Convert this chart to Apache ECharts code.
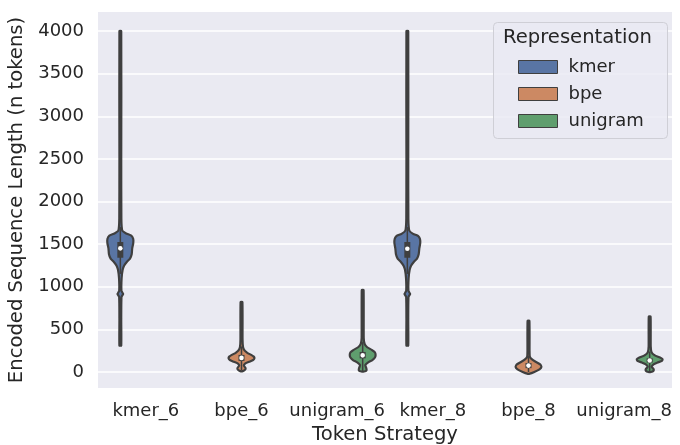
<!DOCTYPE html>
<html>
<head>
<meta charset="utf-8">
<script src="https://cdn.jsdelivr.net/npm/echarts@6/dist/echarts.min.js"></script>
<style>
  html, body { margin: 0; padding: 0; background: #fff; }
  #chart { width: 680px; height: 445px; }
</style>
</head>
<body>
<div id="chart"></div>
<script>
// categories on the x axis and which representation each one belongs to
const categories = ['kmer_6', 'bpe_6', 'unigram_6', 'kmer_8', 'bpe_8', 'unigram_8'];
const representations = ['kmer', 'bpe', 'unigram'];
const categoryRep = [0, 1, 2, 0, 1, 2];

// violin outlines: [length in tokens, relative half width]
const kmer6Profile = [
  [310, 0.07], [600, 0.07], [880, 0.09], [915, 0.22], [950, 0.09], [1100, 0.1],
  [1200, 0.18], [1250, 0.3], [1290, 0.5], [1330, 0.75], [1380, 0.88], [1450, 0.92],
  [1510, 1.0], [1560, 1.0], [1600, 0.85], [1625, 0.45], [1660, 0.15], [1800, 0.08],
  [2500, 0.07], [4000, 0.07]
];
const bpe6Profile = [
  [10, 0.1], [30, 0.3], [50, 0.3], [75, 0.18], [100, 0.3], [120, 0.6], [140, 0.9],
  [160, 1.0], [180, 0.95], [200, 0.75], [225, 0.45], [250, 0.25], [290, 0.12],
  [380, 0.08], [820, 0.07]
];
const unigram6Profile = [
  [5, 0.1], [20, 0.3], [45, 0.28], [80, 0.2], [110, 0.4], [140, 0.75], [170, 0.95],
  [200, 1.0], [230, 0.95], [260, 0.7], [290, 0.35], [330, 0.15], [400, 0.08], [960, 0.07]
];
const kmer8Profile = [
  [310, 0.07], [600, 0.07], [880, 0.09], [915, 0.22], [950, 0.09], [1100, 0.1],
  [1200, 0.18], [1250, 0.3], [1290, 0.5], [1330, 0.75], [1380, 0.88], [1450, 0.93],
  [1510, 1.0], [1560, 0.98], [1595, 0.85], [1620, 0.45], [1660, 0.15], [1800, 0.08],
  [2500, 0.07], [4000, 0.07]
];
const bpe8Profile = [
  [-20, 0.1], [0, 0.45], [30, 0.85], [60, 1.0], [90, 0.9], [120, 0.55], [150, 0.25],
  [180, 0.1], [250, 0.08], [600, 0.07]
];
const unigram8Profile = [
  [0, 0.1], [15, 0.3], [35, 0.3], [60, 0.15], [90, 0.3], [110, 0.6], [130, 0.95],
  [150, 1.0], [170, 0.8], [195, 0.4], [230, 0.15], [300, 0.08], [650, 0.07]
];
const profiles = [kmer6Profile, bpe6Profile, unigram6Profile, kmer8Profile, bpe8Profile, unigram8Profile];

// inner box: [whisker low, q1, median, q3, whisker high]
const kmer6Box = [1150, 1340, 1450, 1525, 1700];
const bpe6Box = [20, 130, 165, 200, 300];
const unigram6Box = [10, 160, 195, 235, 350];
const kmer8Box = [1150, 1340, 1445, 1525, 1700];
const bpe8Box = [0, 45, 75, 105, 190];
const unigram8Box = [10, 110, 135, 160, 240];
const boxes = [kmer6Box, bpe6Box, unigram6Box, kmer8Box, bpe8Box, unigram8Box];

const colors = ['#5975a4', '#cc8963', '#5f9e6e'];
const edge = '#3f3f3f';
// hue dodge: each representation gets its own slot within the 0.8 wide group
const dodge = [-0.8 / 3, 0, 0.8 / 3];

function renderViolin(params, api) {
  const cat = api.value(0);
  const prof = profiles[cat];
  const box = boxes[cat];
  const band = api.size([1, 0])[0];
  const shift = dodge[categoryRep[cat]] * band;
  const maxHalf = band * 0.135;
  const right = [];
  const left = [];
  prof.forEach(function (p) {
    const c = api.coord([cat, p[0]]);
    right.push([c[0] + shift + p[1] * maxHalf, c[1]]);
    left.unshift([c[0] + shift - p[1] * maxHalf, c[1]]);
  });
  const lo = api.coord([cat, box[0]]);
  const q1 = api.coord([cat, box[1]]);
  const med = api.coord([cat, box[2]]);
  const q3 = api.coord([cat, box[3]]);
  const hi = api.coord([cat, box[4]]);
  const x = lo[0] + shift;
  return {
    type: 'group',
    children: [
      {
        type: 'polygon',
        shape: { points: right.concat(left), smooth: 0.15 },
        style: { fill: api.visual('color'), stroke: edge, lineWidth: 2.2 }
      },
      {
        type: 'line',
        shape: { x1: x, y1: lo[1], x2: x, y2: hi[1] },
        style: { stroke: edge, lineWidth: 1.5 }
      },
      {
        type: 'rect',
        shape: { x: x - 3, y: q3[1], width: 6, height: q1[1] - q3[1] },
        style: { fill: edge }
      },
      {
        type: 'circle',
        shape: { cx: x, cy: med[1], r: 2.3 },
        style: { fill: '#ffffff' }
      }
    ]
  };
}

const chart = echarts.init(document.getElementById('chart'), null, { renderer: 'canvas' });

const series = representations.map(function (name, r) {
  const data = [];
  categoryRep.forEach(function (rep, i) {
    if (rep === r) data.push([i, boxes[i][2]]);
  });
  return {
    name: name,
    type: 'custom',
    renderItem: renderViolin,
    itemStyle: { color: colors[r], borderColor: edge, borderWidth: 1 },
    encode: { x: 0, y: 1 },
    data: data,
    z: 3
  };
});

const option = {
  animation: false,
  textStyle: { fontFamily: 'DejaVu Sans' },
  grid: {
    left: 98, right: 8, top: 12, bottom: 57,
    outerBoundsMode: 'none',
    containLabel: false,
    show: true, backgroundColor: '#eaeaf2', borderWidth: 0
  },
  xAxis: {
    type: 'category',
    data: categories,
    axisLine: { show: false },
    axisTick: { show: false },
    axisLabel: { color: '#262626', fontSize: 18, margin: 14, interval: 0 },
    splitLine: { show: false },
    name: 'Token Strategy',
    nameLocation: 'middle',
    nameGap: 34,
    nameTextStyle: { color: '#262626', fontSize: 19.6 }
  },
  yAxis: {
    type: 'value',
    min: -188,
    max: 4223,
    splitNumber: 9,
    axisLine: { show: false },
    axisTick: { show: false },
    axisLabel: {
      color: '#262626', fontSize: 18, margin: 14,
      showMinLabel: false, showMaxLabel: false,
      formatter: function (v) { return String(v); }
    },
    splitLine: { show: true, showMinLine: false, showMaxLine: false, lineStyle: { color: '#ffffff', width: 1.5 } },
    name: 'Encoded Sequence Length (n tokens)',
    nameLocation: 'middle',
    nameGap: 70,
    nameTextStyle: { color: '#262626', fontSize: 19.6 }
  },
  legend: {
    orient: 'vertical',
    left: 513,
    top: 53,
    itemWidth: 39,
    itemHeight: 13,
    itemGap: 9,
    icon: 'rect',
    data: representations,
    textStyle: { color: '#262626', fontSize: 18, lineHeight: 18, padding: [0, 0, 0, 6] },
    itemStyle: { borderColor: edge, borderWidth: 1 }
  },
  graphic: [
    {
      type: 'rect',
      left: 493, top: 22, z: 1,
      shape: { width: 174, height: 116, r: 4 },
      style: { fill: 'rgba(234,234,242,0.8)', stroke: '#cfcfd6', lineWidth: 1 }
    },
    {
      type: 'text',
      left: 503, top: 28, z: 2,
      style: { text: 'Representation', fill: '#262626', font: '19.6px "DejaVu Sans"' }
    }
  ],
  series: series
};

chart.setOption(option);
</script>
</body>
</html>
